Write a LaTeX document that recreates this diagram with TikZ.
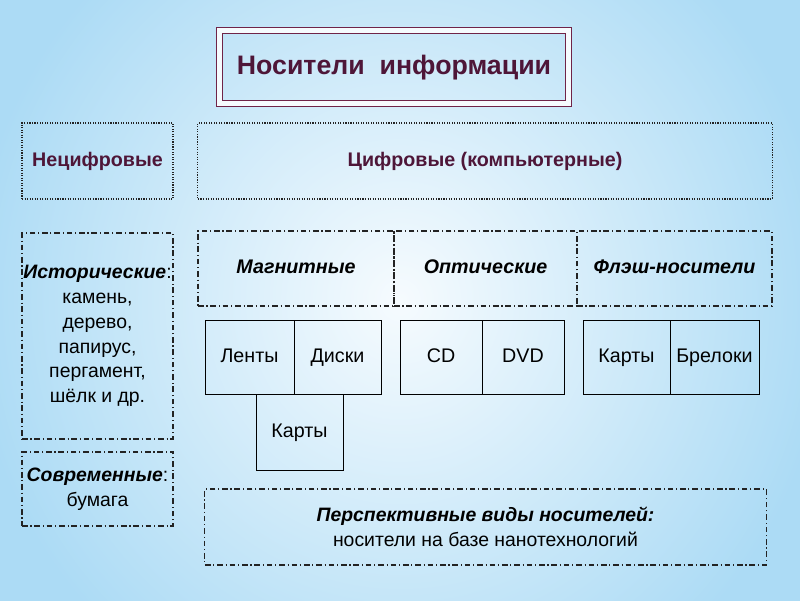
\documentclass[tikz,border=0pt]{standalone}
\usepackage{fontspec}
\setmainfont{Liberation Sans}
\usetikzlibrary{positioning}
\definecolor{TitleRed}{RGB}{112,36,72}
\definecolor{TitleText}{RGB}{78,22,56}
\definecolor{BgCenter}{RGB}{246,251,254}
\definecolor{BgEdge}{RGB}{172,219,245}
\definecolor{LineGray}{RGB}{35,35,35}

\begin{document}
\begin{tikzpicture}[x=0.025cm, y=-0.025cm,
    titlebox/.style={draw=TitleRed, double=BgCenter, double distance=3pt, line width=0.8pt, inner sep=0pt, minimum width=8.725cm, minimum height=1.825cm, text height=2.7ex, text depth=0.6ex, font=\fontsize{19}{23}\selectfont\bfseries, text=TitleText},
    kindbox/.style={draw=LineGray, densely dotted, line width=0.8pt, inner sep=0pt, minimum height=1.9cm, text height=1.9ex, text depth=0.5ex, font=\fontsize{14}{17}\selectfont\bfseries, text=TitleText},
    groupbox/.style={draw=LineGray, dash pattern=on 4pt off 2pt on 0.8pt off 2pt, line width=0.8pt, inner sep=0pt, align=center, font=\fontsize{13.8}{17.6}\selectfont},
    kindtitle/.style={groupbox, minimum height=1.875cm, text height=1.9ex, text depth=0.5ex, font=\fontsize{14}{17}\selectfont\bfseries\itshape},
    itembox/.style={draw=black, line width=0.5pt, inner sep=0pt, minimum height=1.85cm, text height=1.9ex, text depth=0.5ex, font=\fontsize{14}{17}\selectfont}
  ]
    % background
    \useasboundingbox (0,0) rectangle (800,600);
    \shade[inner color=BgCenter, outer color=BgEdge] (-30,-150) rectangle (830,750);

    \node[titlebox] (title) at (394,67) {Носители\ \ информации};

    \node[kindbox, minimum width=3.775cm] (nondigital) at (97.5,161) {Нецифровые};
    \node[kindbox, minimum width=14.35cm] (digital) at (485,161) {Цифровые (компьютерные)};

    \node[groupbox, minimum width=3.775cm, minimum height=5.15cm] (hist) at (97.5,336)
      {\textbf{\textit{Исторические}}:\\камень,\\дерево,\\папирус,\\пергамент,\\шёлк и др.};
    \node[groupbox, minimum width=3.775cm, minimum height=1.85cm] (modern) at (97.5,489)
      {\textbf{\textit{Современные}}:\\бумага};

    \node[kindtitle, minimum width=4.9cm] (magnetic) at (296,268.5) {Магнитные};
    \node[kindtitle, minimum width=4.575cm] (optical) at (485.5,268.5) {Оптические};
    \node[kindtitle, minimum width=4.875cm] (flash) at (674.5,268.5) {Флэш-носители};

    \node[itembox, minimum width=2.225cm] (tapes) at (249.5,357) {Ленты};
    \node[itembox, minimum width=2.175cm] (disks) at (337.5,357) {Диски};
    \node[itembox, minimum width=2.175cm, minimum height=1.9cm] (magcards) at (299.5,432) {Карты};
    \node[itembox, minimum width=2.05cm] (cd) at (441,357) {CD};
    \node[itembox, minimum width=2.05cm] (dvd) at (523,357) {DVD};
    \node[itembox, minimum width=2.175cm] (flashcards) at (626.5,357) {Карты};
    \node[itembox, minimum width=2.225cm] (keys) at (714.5,357) {Брелоки};

    \node[groupbox, minimum width=14.025cm, minimum height=1.9cm] (future) at (485.5,527)
      {\textbf{\textit{Перспективные виды носителей:}}\\носители на базе нанотехнологий};
  \end{tikzpicture}
\end{document}
